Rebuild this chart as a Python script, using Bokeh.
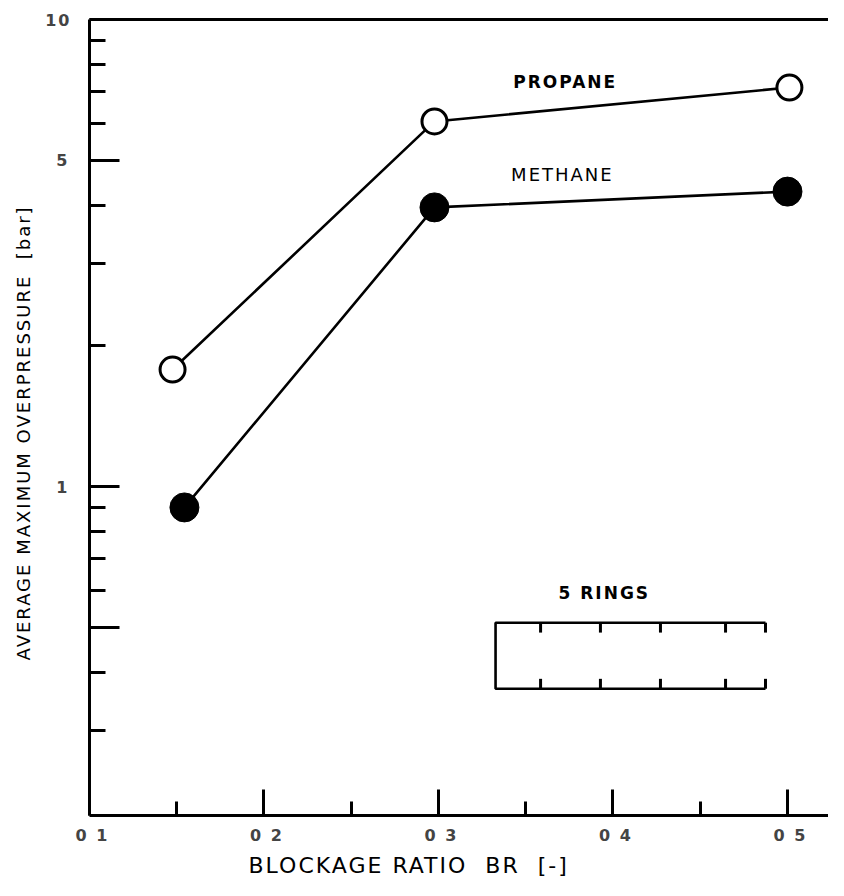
from bokeh.plotting import figure
from bokeh.models import Range1d, FixedTicker, CustomJSTickFormatter, LinearAxis, Title
from bokeh.core.properties import value
from bokeh.embed import file_html
from bokeh.resources import INLINE

# ---- data ----
propane_x = [0.1476, 0.2977, 0.5011]
propane_y = [1.78, 6.05, 7.15]
methane_x = [0.1544, 0.2977, 0.5000]
methane_y = [0.902, 3.96, 4.28]

x_major = [0.1, 0.2, 0.3, 0.4, 0.5]
x_minor = [0.15, 0.25, 0.35, 0.45]
x_labels = {"0.1": "0 1", "0.2": "0 2", "0.3": "0 3", "0.4": "0 4", "0.5": "0 5"}
y_major = [0.5, 1, 5, 10]
y_minor = [0.3, 0.4, 0.6, 0.7, 0.8, 0.9, 2, 3, 4, 6, 7, 8, 9]
y_labels = {"1": "1", "5": "5", "10": "10"}

x_title = "BLOCKAGE RATIO\u00a0\u00a0BR\u00a0\u00a0[-]"
y_title = "AVERAGE MAXIMUM OVERPRESSURE\u00a0\u00a0[bar]"

# schematic of the ring arrangement ("5 RINGS")
ring_plate_x = 0.3327
ring_x = [0.3585, 0.3928, 0.4272, 0.4645, 0.4874]
ring_top = 0.511
ring_bottom = 0.369
ring_tick = 1.05

FONT = "DejaVu Sans"

p = figure(width=828, height=880, x_axis_type="linear", y_axis_type="log",
           x_range=Range1d(0.1, 0.5235), y_range=Range1d(0.1975, 10),
           output_backend="svg", toolbar_location=None,
           min_border_left=89, min_border_right=0, min_border_top=19,
           min_border_bottom=65)
p.outline_line_color = None
p.grid.grid_line_color = None
p.background_fill_color = "white"
p.border_fill_color = "white"
p.styles = {"letter-spacing": "2px"}

# x axis
xa = p.xaxis[0]
xa.ticker = FixedTicker(ticks=x_major, minor_ticks=x_minor)
xa.formatter = CustomJSTickFormatter(args=dict(lab=x_labels),
                                     code="const k = (Math.round(tick*10)/10).toString(); return lab[k] || '';")
xa.axis_line_width = 3
xa.major_tick_line_width = 3
xa.minor_tick_line_width = 3
xa.major_tick_in = 26
xa.major_tick_out = 0
xa.minor_tick_in = 14
xa.minor_tick_out = 0
xa.major_label_text_font = FONT
xa.major_label_text_font_style = "bold"
xa.major_label_text_font_size = "16px"
xa.major_label_standoff = 10

# y axis
ya = p.yaxis[0]
ya.ticker = FixedTicker(ticks=y_major, minor_ticks=y_minor)
ya.formatter = CustomJSTickFormatter(args=dict(lab=y_labels),
                                     code="const k = (Math.round(tick*10)/10).toString(); return lab[k] || '';")
ya.axis_line_width = 3
ya.major_tick_line_width = 3
ya.minor_tick_line_width = 3
ya.major_tick_in = 30
ya.major_tick_out = 0
ya.minor_tick_in = 16
ya.minor_tick_out = 0
ya.major_label_text_font = FONT
ya.major_label_text_font_style = "bold"
ya.major_label_text_font_size = "16px"
ya.major_label_standoff = 22

# axis titles
p.add_layout(Title(text=x_title, align="left", offset=159, standoff=6,
                   text_font=FONT, text_font_size="22px", text_font_style="normal",
                   text_color="black"), "below")
p.add_layout(Title(text=y_title, align="left", offset=155, standoff=17,
                   text_font=FONT, text_font_size="18px", text_font_style="normal",
                   text_color="black"), "left")

# top frame line
top = LinearAxis(ticker=FixedTicker(ticks=[]), axis_line_width=3,
                 major_label_text_font_size="0px",
                 major_tick_line_color=None, minor_tick_line_color=None)
p.add_layout(top, "above")

# series
p.line(propane_x, propane_y, line_color="black", line_width=2.6)
p.line(methane_x, methane_y, line_color="black", line_width=2.6)
p.scatter(propane_x, propane_y, marker="circle", size=25, fill_color="white",
          line_color="black", line_width=3)
p.scatter(methane_x, methane_y, marker="circle", size=29, fill_color="black",
          line_color="black", line_width=1)

# labels
p.text(x=[0.3686], y=[7.33], text=["PROPANE"], text_font=value(FONT),
       text_font_style="bold", text_font_size="17px", text_align="center",
       text_baseline="middle", text_color="black")
p.text(x=[0.367], y=[4.66], text=["METHANE"], text_font=value(FONT),
       text_font_style="normal", text_font_size="18px", text_align="center",
       text_baseline="middle", text_color="black")
p.text(x=[0.391], y=[0.593], text=["5 RINGS"], text_font=value(FONT),
       text_font_style="bold", text_font_size="17px", text_align="center",
       text_baseline="middle", text_color="black")

# ring schematic
right = ring_x[-1]
p.multi_line(xs=[[right, ring_plate_x, ring_plate_x, right]],
             ys=[[ring_top, ring_top, ring_bottom, ring_bottom]],
             line_color="black", line_width=2.6)
p.segment(x0=ring_x, y0=[ring_top] * len(ring_x), x1=ring_x,
          y1=[ring_top / ring_tick] * len(ring_x), line_color="black", line_width=3)
p.segment(x0=ring_x, y0=[ring_bottom] * len(ring_x), x1=ring_x,
          y1=[ring_bottom * ring_tick] * len(ring_x), line_color="black", line_width=3)

open("out.html", "w").write(file_html(p, INLINE))
